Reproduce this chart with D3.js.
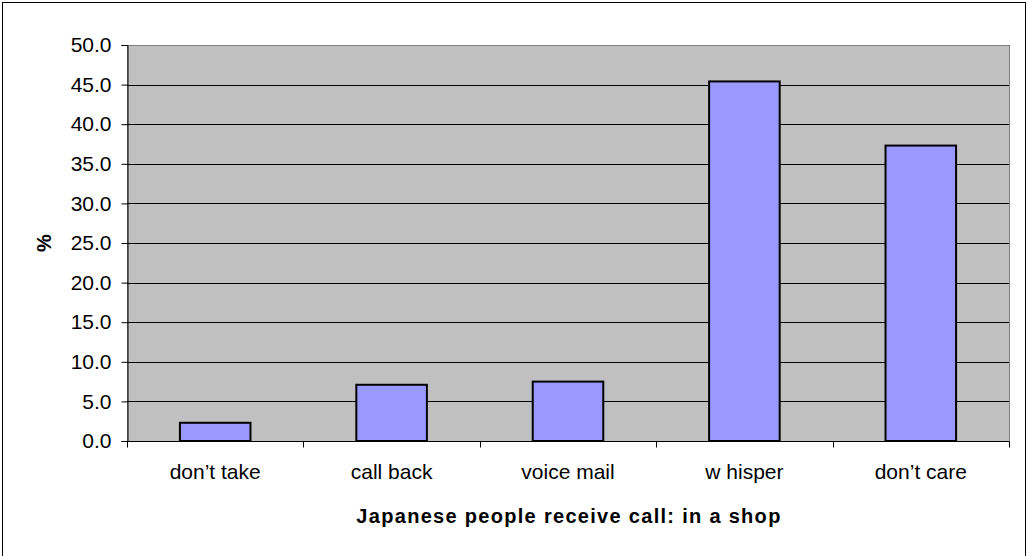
<!DOCTYPE html>
<html>
<head>
<meta charset="utf-8">
<script src="https://cdn.jsdelivr.net/npm/d3@7"></script>
<style>
  html, body { margin: 0; padding: 0; background: #fff; }
  svg { display: block; font-family: "Liberation Sans", Arial, sans-serif; }
</style>
</head>
<body>
<svg id="chart" width="1028" height="556"></svg>
<script>
// Survey answers: how Japanese people handle receiving a call in a shop
const categories = ["don\u2019t take", "call back", "voice mail", "w hisper", "don\u2019t care"];
const percents = [2.3, 7.1, 7.5, 45.4, 37.3];
const yTicks = [0, 5, 10, 15, 20, 25, 30, 35, 40, 45, 50];
const xTitle = "Japanese people receive call: in a shop";
const yTitle = "%";

const svg = d3.select("#chart");
const plot = { left: 127, top: 45, right: 1009, bottom: 441 };
const fontFamily = "'Liberation Sans', Arial, sans-serif";

// outer frame (bottom edge runs past the canvas)
svg.append("rect")
  .attr("x", 2.5).attr("y", 2.5)
  .attr("width", 1023).attr("height", 560)
  .attr("fill", "#fff").attr("stroke", "#000").attr("stroke-width", 1);

const x = d3.scaleBand()
  .domain(categories)
  .range([plot.left, plot.right])
  .paddingInner(0)
  .paddingOuter(0);

const y = d3.scaleLinear()
  .domain([0, 50])
  .range([plot.bottom, plot.top]);

// plot area background
svg.append("rect")
  .attr("x", plot.left + 0.5).attr("y", plot.top + 0.5)
  .attr("width", plot.right - plot.left)
  .attr("height", plot.bottom - plot.top)
  .attr("fill", "#c0c0c0")
  .attr("stroke", "#808080").attr("stroke-width", 1);

// horizontal gridlines
svg.append("g")
  .selectAll("line")
  .data(yTicks.filter(d => d > 0 && d < 50))
  .join("line")
  .attr("x1", plot.left).attr("x2", plot.right)
  .attr("y1", d => Math.round(y(d)) + 0.5)
  .attr("y2", d => Math.round(y(d)) + 0.5)
  .attr("stroke", "#000").attr("stroke-width", 1);

// bars: width is 40% of each category band
const barW = x.bandwidth() / 2.5;
svg.append("g")
  .selectAll("rect")
  .data(categories.map((c, i) => ({ c, v: percents[i] })))
  .join("rect")
  .attr("x", d => x(d.c) + (x.bandwidth() - barW) / 2)
  .attr("y", d => y(d.v))
  .attr("width", barW)
  .attr("height", d => y(0) - y(d.v))
  .attr("fill", "#9999ff")
  .attr("stroke", "#000").attr("stroke-width", 2);

// y axis
const yAxis = d3.axisLeft(y)
  .tickValues(yTicks)
  .tickFormat(d3.format(".1f"))
  .tickSize(6)
  .tickPadding(10);
const gy = svg.append("g")
  .attr("transform", `translate(${plot.left + 0.5},0)`)
  .call(yAxis);
gy.select(".domain").attr("stroke", "#000");
gy.selectAll(".tick line").attr("stroke", "#000");
gy.selectAll(".tick text")
  .attr("fill", "#000")
  .style("font-size", "21px")
  .style("font-family", fontFamily);

// x axis: ticks at category boundaries
const gx = svg.append("g")
  .attr("transform", `translate(0,${plot.bottom + 0.5})`);
gx.append("line")
  .attr("x1", plot.left).attr("x2", plot.right)
  .attr("stroke", "#000");
const boundaries = categories.map(c => x(c)).concat([plot.right]);
gx.selectAll("line.tk")
  .data(boundaries)
  .join("line")
  .attr("class", "tk")
  .attr("x1", d => Math.round(d) + 0.5).attr("x2", d => Math.round(d) + 0.5)
  .attr("y1", 0).attr("y2", 6)
  .attr("stroke", "#000");
gx.selectAll("text")
  .data(categories)
  .join("text")
  .attr("x", d => x(d) + x.bandwidth() / 2)
  .attr("y", 37.5)
  .attr("text-anchor", "middle")
  .style("font-size", "21px")
  .text(d => d);

// axis titles
svg.append("text")
  .attr("x", plot.left + (plot.right - plot.left) / 2 + 1)
  .attr("y", 523)
  .attr("text-anchor", "middle")
  .style("font-size", "20px")
  .style("font-weight", "bold")
  .style("letter-spacing", "1.3px")
  .text(xTitle);

svg.append("text")
  .attr("transform", `translate(51,${(plot.top + plot.bottom) / 2}) rotate(-90)`)
  .attr("text-anchor", "middle")
  .style("font-size", "20px")
  .style("font-weight", "bold")
  .text(yTitle);
</script>
</body>
</html>
